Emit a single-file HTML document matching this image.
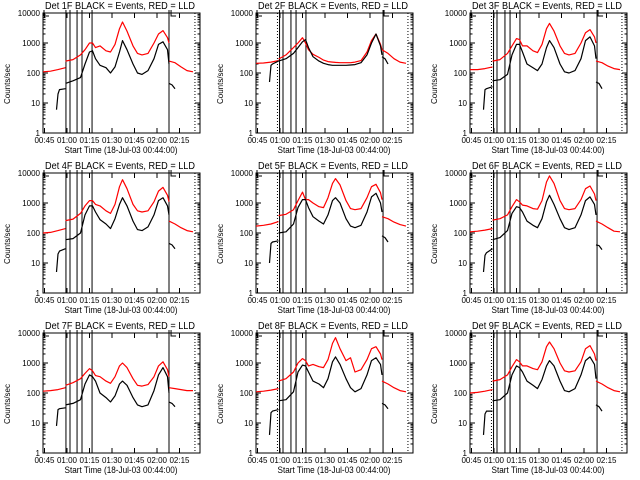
<!DOCTYPE html>
<html><head><meta charset="utf-8">
<style>
html,body{margin:0;padding:0;background:#fff;}
svg{display:block;font-family:"Liberation Sans",sans-serif;}
</style></head>
<body>
<svg id="chart" width="640" height="480" viewBox="0 0 640 480"></svg>
<script>
// Shared time grids (minutes after 00:44:00)
const tRedL = [0,5,10,15];
const tBlkL = [9,10,11,15];
const tMain = [15,20,25,28,31,33,35,38,42,45,48,51,53,56,60,63,66,70,74,77,80,83,84];
const tRedR = [84,88,92,96,100];
const tBlkR = [84,86,88];
const detNames = ["Det 1F","Det 2F","Det 3F","Det 4F","Det 5F","Det 6F","Det 7F","Det 8F","Det 9F"];
const yTickVals = [1,10,100,1000,10000];
const yTickLabels = ["1","10","100","1000","10000"];
const xTickMins = [1,16,31,46,61,76,91];
const xTickLabels = ["00:45","01:00","01:15","01:30","01:45","02:00","02:15"];

const redL = [
 [110,115,130,150],[210,215,230,260],[130,130,140,160],
 [100,105,120,140],[170,180,200,240],[110,115,125,140],
 [115,120,130,150],[110,115,125,140],[100,105,115,130]];
const redM = [
 [250,280,400,600,1000,1000,700,800,550,500,900,3000,5000,2500,800,450,400,450,1000,2000,2600,1500,1000],
 [290,400,700,1000,1500,1000,600,420,330,270,240,230,225,220,220,220,230,260,500,1200,2000,900,600],
 [250,280,450,800,1400,1300,800,800,550,480,900,3000,4500,2500,800,450,400,450,1000,2200,2800,1600,1000],
 [260,290,450,800,1200,1200,900,800,550,450,900,3500,6000,3000,900,550,500,550,1100,2500,3300,1800,1100],
 [380,420,600,1200,2300,1300,1300,1000,750,700,1500,4500,6500,4000,1200,650,600,650,1500,3500,4200,2200,1300],
 [270,300,400,750,1300,1100,850,800,650,620,1200,5000,8000,4500,1200,650,600,650,1300,3000,3700,2000,1200],
 [180,220,300,450,650,550,380,350,250,210,350,800,1000,700,300,180,170,190,350,800,1100,600,350],
 [250,300,500,1000,1400,1200,800,900,750,700,1300,4500,7000,3000,1200,1500,500,600,1300,3000,3500,2000,1300],
 [250,280,400,750,1300,1100,800,800,650,600,1100,3500,5000,3000,1000,550,500,550,1100,3000,3800,2000,1200]];
const redR = [
 [250,220,160,120,110],[600,450,300,230,210],[250,220,170,140,130],
 [250,200,150,120,110],[350,300,230,190,170],[250,200,150,115,110],
 [150,140,130,120,120],[250,200,150,120,110],[250,200,150,120,110]];
const blkL = [
 [6,20,28,30],[50,180,200,250],[6,28,30,35],
 [5,20,25,30],[10,45,50,55],[5,18,22,30],
 [8,28,30,32],[4,22,25,28],[4,20,25,25]];
const blkM = [
 [45,55,70,200,500,550,300,180,150,100,160,500,1200,600,200,100,90,120,300,900,1100,600,200],
 [250,300,450,700,1100,1300,700,350,250,210,190,180,180,180,180,185,190,220,400,1000,2000,800,400],
 [55,60,90,400,900,900,500,200,150,120,200,700,1200,700,200,110,100,120,300,1200,1600,800,300],
 [60,65,100,400,800,800,500,280,200,140,300,900,1500,800,250,130,120,160,400,1200,1500,800,400],
 [100,110,200,700,1300,1300,700,350,250,200,400,1200,1500,1000,300,170,150,180,500,1600,2100,1000,500],
 [60,70,120,450,750,700,500,250,180,150,300,1100,1800,900,300,150,130,150,400,1200,1600,900,400],
 [40,45,60,200,400,350,250,100,70,50,80,200,250,180,70,40,35,40,120,400,700,350,100],
 [55,60,110,500,850,800,500,250,200,150,300,1100,1600,900,300,150,110,140,400,1200,1500,900,400],
 [55,60,100,400,800,700,500,250,180,140,280,800,1200,800,250,120,110,140,400,1200,1600,900,300]];
const blkR = [
 [45,40,30],[350,300,200],[50,45,30],
 [45,40,30],[80,70,50],[40,38,28],
 [50,45,35],[45,40,30],[40,35,25]];

const NS="http://www.w3.org/2000/svg";
const svg=document.getElementById('chart');
function mk(tag,attrs,parent){const e=document.createElementNS(NS,tag);for(const k in attrs)e.setAttribute(k,attrs[k]);(parent||svg).appendChild(e);return e;}

for(let p=0;p<9;p++){
  const col=p%3,row=Math.floor(p/3);
  const ox=Math.round(col*213.33),oy=row*160;
  const L=ox+43,R=ox+200,T=oy+13,B=oy+133;
  const xs=m=>L+m*1.5;
  const ys=v=>B-30*Math.log10(v);
  const g=mk('g',{});
  
  
  // title
  const tt=mk('text',{x:ox+120,y:oy+9,'font-size':10,'text-anchor':'middle',textLength:150,lengthAdjust:'spacingAndGlyphs'},g);
  tt.textContent=detNames[p]+" BLACK = Events, RED = LLD";
  
  
  // y title
  const yt=mk('text',{x:0,y:0,'font-size':8,'text-anchor':'middle',transform:`translate(${ox+10},${oy+84}) rotate(-90)`},g);
  yt.textContent="Counts/sec";
  
  
  // x title
  const xt=mk('text',{x:ox+121,y:oy+153,'font-size':9,'text-anchor':'middle',textLength:113,lengthAdjust:'spacingAndGlyphs'},g);
  xt.textContent="Start Time (18-Jul-03 00:44:00)";
  
  
  // box
  const bx=mk('rect',{x:L,y:T,width:R-L,height:B-T,fill:'none',stroke:'#000','stroke-width':1},g);
  
  
  // y ticks
  yTickVals.forEach((v,i)=>{
    const y=ys(v);
    mk('line',{x1:L,x2:L+5,y1:y,y2:y,stroke:'#000'},g);
    mk('line',{x1:R-5,x2:R,y1:y,y2:y,stroke:'#000'},g);
    const lb=mk('text',{x:L-3,y:y+3,'font-size':8,'text-anchor':'end'},g);
    lb.textContent=yTickLabels[i];
    
    
    if(i<yTickVals.length-1){for(let k=2;k<10;k++){const yy=ys(v*k);
      mk('line',{x1:L,x2:L+2.5,y1:yy,y2:yy,stroke:'#000'},g);
      mk('line',{x1:R-2.5,x2:R,y1:yy,y2:yy,stroke:'#000'},g);}}
  });
  // x ticks
  xTickMins.forEach((m,i)=>{
    const x=xs(m);
    mk('line',{x1:x,x2:x,y1:B,y2:B-5,stroke:'#000'},g);
    mk('line',{x1:x,x2:x,y1:T,y2:T+5,stroke:'#000'},g);
    const lb=mk('text',{x:x,y:B+10,'font-size':8,'text-anchor':'middle'},g);
    lb.textContent=xTickLabels[i];
    
    
  });
  // vertical markers
  const solid = col===0?[15.3,18,22.7,26,32.7,84]:[15.7,18,23.3,26.7,33.3,84.7];
  solid.forEach(m=>{const l=mk('line',{x1:xs(m),x2:xs(m),y1:T-3,y2:B,stroke:'#000'},g);
    
    });
  const dotted = col===0?[101.3]:[14.3,101.3];
  dotted.forEach(m=>{const l=mk('line',{x1:xs(m),x2:xs(m),y1:T,y2:B,stroke:'#000','stroke-dasharray':'1,2'},g);
    
    });
  // bracket marks
  [L+1,xs(84.7)+1].forEach(x=>{
    mk('polyline',{points:`${x},${T-3} ${x},${T+3} ${x+5},${T+3}`,fill:'none',stroke:'#000'},g);
  });
  // series
  function line(ts,vs,color,name){
    const pts=ts.map((t,i)=>xs(t).toFixed(1)+','+ys(vs[i]).toFixed(1)).join(' ');
    const pl=mk('polyline',{points:pts,fill:'none',stroke:color,'stroke-width':1.2,'stroke-linejoin':'round'},g);
    
    
  }
  line(tRedL,redL[p],'#ff0000','lld-rate-line-pre');
  line(tMain,redM[p],'#ff0000','lld-rate-line');
  line(tRedR,redR[p],'#ff0000','lld-rate-line-post');
  line(tBlkL,blkL[p],'#000','event-rate-line-pre');
  line(tMain,blkM[p],'#000','event-rate-line');
  line(tBlkR,blkR[p],'#000','event-rate-line-post');
}
</script>
</body></html>
